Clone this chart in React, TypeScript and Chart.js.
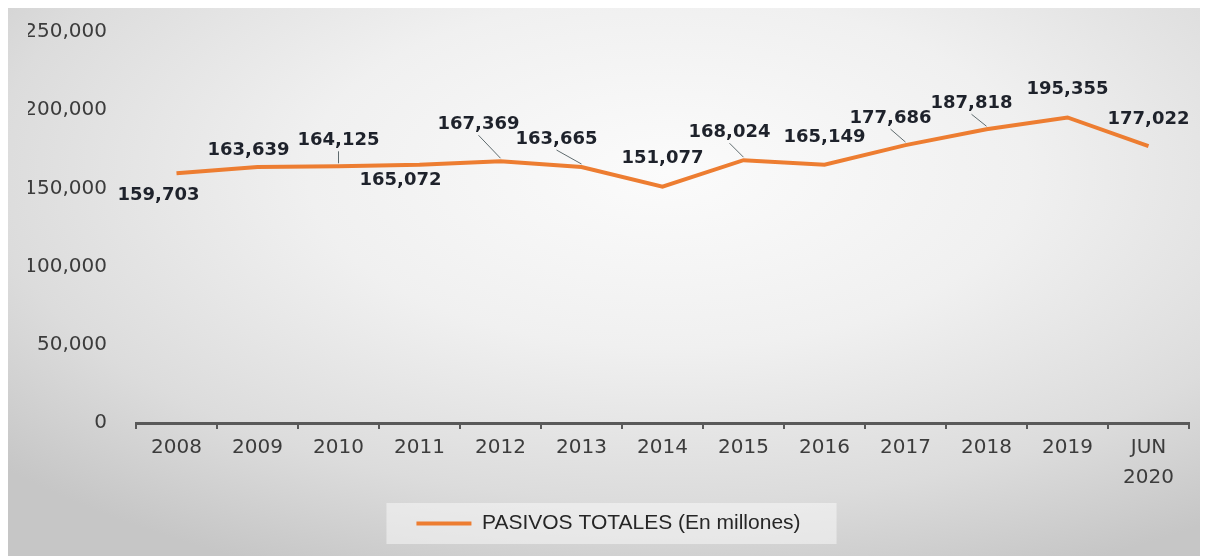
import React, { useEffect, useRef } from 'react';
import { Chart, registerables } from 'chart.js';

Chart.register(...registerables);

const categories: (string | string[])[] = [
  '2008', '2009', '2010', '2011', '2012', '2013', '2014',
  '2015', '2016', '2017', '2018', '2019', ['JUN', '2020'],
];
const pasivosTotales: number[] = [
  159703, 163639, 164125, 165072, 167369, 163665, 151077,
  168024, 165149, 177686, 187818, 195355, 177022,
];
const seriesLabel = 'PASIVOS TOTALES (En millones)';
const yTickValues: number[] = [0, 50000, 100000, 150000, 200000, 250000];

// label placement relative to each point (dx, dy) and whether a leader line is drawn
const labelOffsets: [number, number][] = [
  [-18, 22], [-9, -17], [0, -26], [-19, 16], [-22, -37], [-25, -28], [0, -28],
  [-14, -28], [0, -27], [-15, -27], [-15, -26], [0, -28], [0, -27],
];
const leaderLines: boolean[] = [
  false, false, true, false, true, true, false, true, false, true, true, false, false,
];

const fmt = (v: number) => v.toLocaleString('en-US');

const dataLabelPlugin = {
  id: 'dataLabelPlugin',
  afterDatasetsDraw(chart: any) {
    const ctx = chart.ctx;
    const meta = chart.getDatasetMeta(0);
    ctx.save();
    meta.data.forEach((pt: any, i: number) => {
      const [dx, dy] = labelOffsets[i];
      const lx = pt.x + dx;
      const ly = pt.y + dy;
      if (leaderLines[i]) {
        ctx.strokeStyle = '#5f6b6e';
        ctx.lineWidth = 1;
        ctx.beginPath();
        ctx.moveTo(lx, ly + 11);
        ctx.lineTo(pt.x, pt.y - 3);
        ctx.stroke();
      }
      ctx.font = 'bold 18px "DejaVu Sans"';
      ctx.fillStyle = '#1e222b';
      ctx.textAlign = 'center';
      ctx.textBaseline = 'middle';
      ctx.fillText(fmt(pasivosTotales[i]), lx, ly);
    });
    ctx.restore();
  },
};

const legendBoxPlugin = {
  id: 'legendBoxPlugin',
  beforeDraw(chart: any) {
    const lg = chart.legend;
    if (!lg || !lg.legendHitBoxes || !lg.legendHitBoxes.length) return;
    const hb = lg.legendHitBoxes[0];
    const ctx = chart.ctx;
    ctx.save();
    ctx.fillStyle = 'rgba(255,255,255,0.45)';
    ctx.fillRect(hb.left - 30, hb.top - 10, hb.width + 66, hb.height + 20);
    ctx.restore();
  },
};

export default function App() {
  const ref = useRef<HTMLCanvasElement | null>(null);

  useEffect(() => {
    if (!ref.current) return;
    const chart = new Chart(ref.current, {
      type: 'line',
      data: {
        labels: categories as any,
        datasets: [
          {
            label: seriesLabel,
            data: pasivosTotales,
            borderColor: '#ED7D31',
            backgroundColor: '#ED7D31',
            borderWidth: 4,
            pointRadius: 0,
            tension: 0,
          },
        ],
      },
      options: {
        animation: false,
        responsive: false,
        maintainAspectRatio: false,
        layout: { padding: { top: 24, right: 19, bottom: 12, left: 20 } },
        plugins: {
          tooltip: { enabled: false },
          legend: {
            position: 'bottom',
            labels: {
              usePointStyle: true,
              pointStyle: 'line',
              pointStyleWidth: 55,
              padding: 10,
              color: '#262626',
              font: { family: '"Liberation Sans"', size: 21 },
            },
          },
        },
        scales: {
          x: {
            type: 'category',
            offset: true,
            grid: {
              display: true,
              drawOnChartArea: false,
              drawTicks: true,
              tickLength: 6,
              color: '#595959',
              lineWidth: 2,
              offset: true,
            },
            border: { display: true, color: '#595959', width: 3 },
            ticks: {
              color: '#3c3c3c',
              padding: 4,
              maxRotation: 0,
              autoSkip: false,
              font: { family: '"DejaVu Sans"', size: 20, lineHeight: 1.5 },
            },
            afterFit(scale: any) {
              scale.height = 80;
            },
          },
          y: {
            min: 0,
            max: 250000,
            grid: { display: false, drawTicks: false },
            border: { display: false },
            afterBuildTicks(scale: any) {
              scale.ticks = yTickValues.map((v) => ({ value: v }));
            },
            ticks: {
              color: '#3c3c3c',
              padding: 29,
              font: { family: '"DejaVu Sans"', size: 20 },
              callback: (v: any) => fmt(Number(v)),
            },
            afterFit(scale: any) {
              scale.width = 108;
              scale.paddingTop = 12;
              scale.paddingBottom = 12;
            },
          },
        },
      },
      plugins: [dataLabelPlugin, legendBoxPlugin],
    });
    return () => chart.destroy();
  }, []);

  return (
    <div
      style={{
        width: 1200,
        height: 548,
        background:
          'radial-gradient(ellipse 75% 80% at 55% 30%, #fbfbfb 0%, #f0f0f0 40%, #dcdcdc 75%, #c6c6c6 100%)',
      }}
    >
      <canvas ref={ref} width={1200} height={548} style={{ display: 'block' }} />
    </div>
  );
}
